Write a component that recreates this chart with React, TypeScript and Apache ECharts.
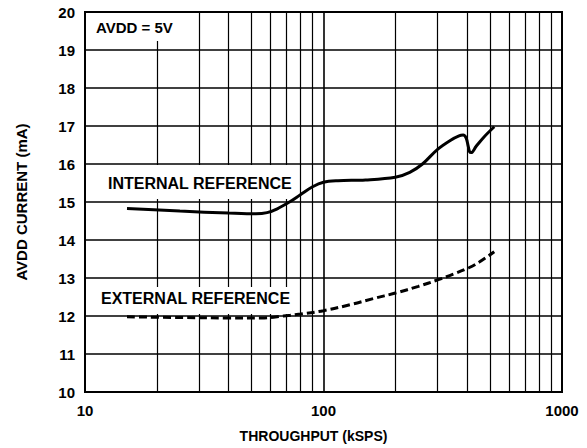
import React, { useEffect, useRef } from "react";
import * as echarts from "echarts";

// Throughput (kSPS) and AVDD current (mA)
const internalX = [15, 25, 40, 52, 58, 64, 72, 80, 90, 100, 115, 150, 200, 230, 260, 300, 340, 370, 385, 396, 404, 410, 416, 436, 469, 520];
const internalY = [14.83, 14.76, 14.71, 14.69, 14.72, 14.82, 15.0, 15.19, 15.4, 15.52, 15.56, 15.58, 15.65, 15.78, 16.0, 16.38, 16.62, 16.74, 16.76, 16.69, 16.48, 16.32, 16.3, 16.46, 16.7, 16.98];

const externalX = [15, 25, 40, 55, 68, 80, 100, 130, 160, 202, 250, 301, 350, 407, 450, 520];
const externalY = [11.98, 11.96, 11.95, 11.95, 12.0, 12.05, 12.14, 12.3, 12.45, 12.61, 12.78, 12.95, 13.1, 13.27, 13.42, 13.69];

const minorGridX = [20, 30, 40, 50, 60, 70, 80, 90, 200, 300, 400, 500, 600, 700, 800, 900];

const xTitle = "THROUGHPUT (kSPS)";
const yTitle = "AVDD CURRENT (mA)";
const supplyLabel = "AVDD = 5V";
const internalLabel = "INTERNAL REFERENCE";
const externalLabel = "EXTERNAL REFERENCE";

const FONT = "'Liberation Sans', Arial, Helvetica, sans-serif";

export default function App() {
  const ref = useRef<HTMLDivElement>(null);

  useEffect(() => {
    document.body.style.margin = "0";
    if (!ref.current) return;
    const chart = echarts.init(ref.current, null, { renderer: "svg" });
    const textBase = { fontFamily: FONT, fontWeight: "bold", fill: "#000" };
    chart.setOption({
      animation: false,
      backgroundColor: "#fff",
      grid: {
        left: 85,
        right: 25,
        top: 12,
        bottom: 56,
        show: true,
        borderColor: "#000",
        borderWidth: 2,
        backgroundColor: "transparent",
      },
      xAxis: {
        type: "log",
        logBase: 10,
        min: 10,
        max: 1000,
        name: xTitle,
        nameLocation: "middle",
        nameGap: 37,
        nameTextStyle: {
          fontFamily: FONT,
          fontWeight: "bold",
          fontSize: 14,
          color: "#000",
          padding: [0, 20, 0, 0],
        },
        axisLine: { show: true, lineStyle: { color: "#000", width: 2 } },
        axisTick: { show: false },
        axisLabel: {
          margin: 11,
          fontFamily: FONT,
          fontWeight: "bold",
          fontSize: 15,
          color: "#000",
          formatter: (v: number) => String(Math.round(v)),
        },
        splitLine: { show: true, lineStyle: { color: "#000", width: 1.6 } },
      },
      yAxis: {
        type: "value",
        min: 10,
        max: 20,
        interval: 1,
        name: yTitle,
        nameLocation: "middle",
        nameGap: 56,
        nameTextStyle: {
          fontFamily: FONT,
          fontWeight: "bold",
          fontSize: 15,
          color: "#000",
        },
        axisLine: { show: true, lineStyle: { color: "#000", width: 2 } },
        axisTick: { show: false },
        axisLabel: {
          margin: 10,
          fontFamily: FONT,
          fontWeight: "bold",
          fontSize: 15,
          color: "#000",
        },
        splitLine: { show: true, lineStyle: { color: "#000", width: 1.5 } },
      },
      series: [
        {
          type: "line",
          name: internalLabel,
          data: internalX.map((x, i) => [x, internalY[i]]),
          showSymbol: false,
          smooth: 0.35,
          lineStyle: { color: "#000", width: 3 },
          z: 5,
          markLine: {
            silent: true,
            symbol: ["none", "none"],
            label: { show: false },
            lineStyle: { color: "#000", width: 1.2, type: "solid" },
            data: minorGridX.map((v) => ({ xAxis: v })),
          },
        },
        {
          type: "line",
          name: externalLabel,
          data: externalX.map((x, i) => [x, externalY[i]]),
          showSymbol: false,
          smooth: 0.35,
          lineStyle: { color: "#000", width: 3, type: [8, 4] },
          z: 5,
        },
      ],
      graphic: [
        { type: "rect", z: 100, shape: { x: 86, y: 13, width: 108, height: 28 }, style: { fill: "#fff" } },
        {
          type: "text",
          z: 101,
          x: 96,
          y: 27,
          style: { ...textBase, text: supplyLabel, fontSize: 15, verticalAlign: "middle" },
        },
        { type: "rect", z: 100, shape: { x: 100, y: 165, width: 190, height: 34 }, style: { fill: "#fff" } },
        {
          type: "text",
          z: 101,
          x: 108,
          y: 183,
          style: { ...textBase, text: internalLabel, fontSize: 16, verticalAlign: "middle" },
        },
        { type: "rect", z: 100, shape: { x: 96, y: 287, width: 194, height: 27 }, style: { fill: "#fff" } },
        {
          type: "text",
          z: 101,
          x: 101,
          y: 298,
          style: { ...textBase, text: externalLabel, fontSize: 16, verticalAlign: "middle" },
        },
      ],
    });
    return () => chart.dispose();
  }, []);

  return <div ref={ref} style={{ width: 587, height: 448 }} />;
}
